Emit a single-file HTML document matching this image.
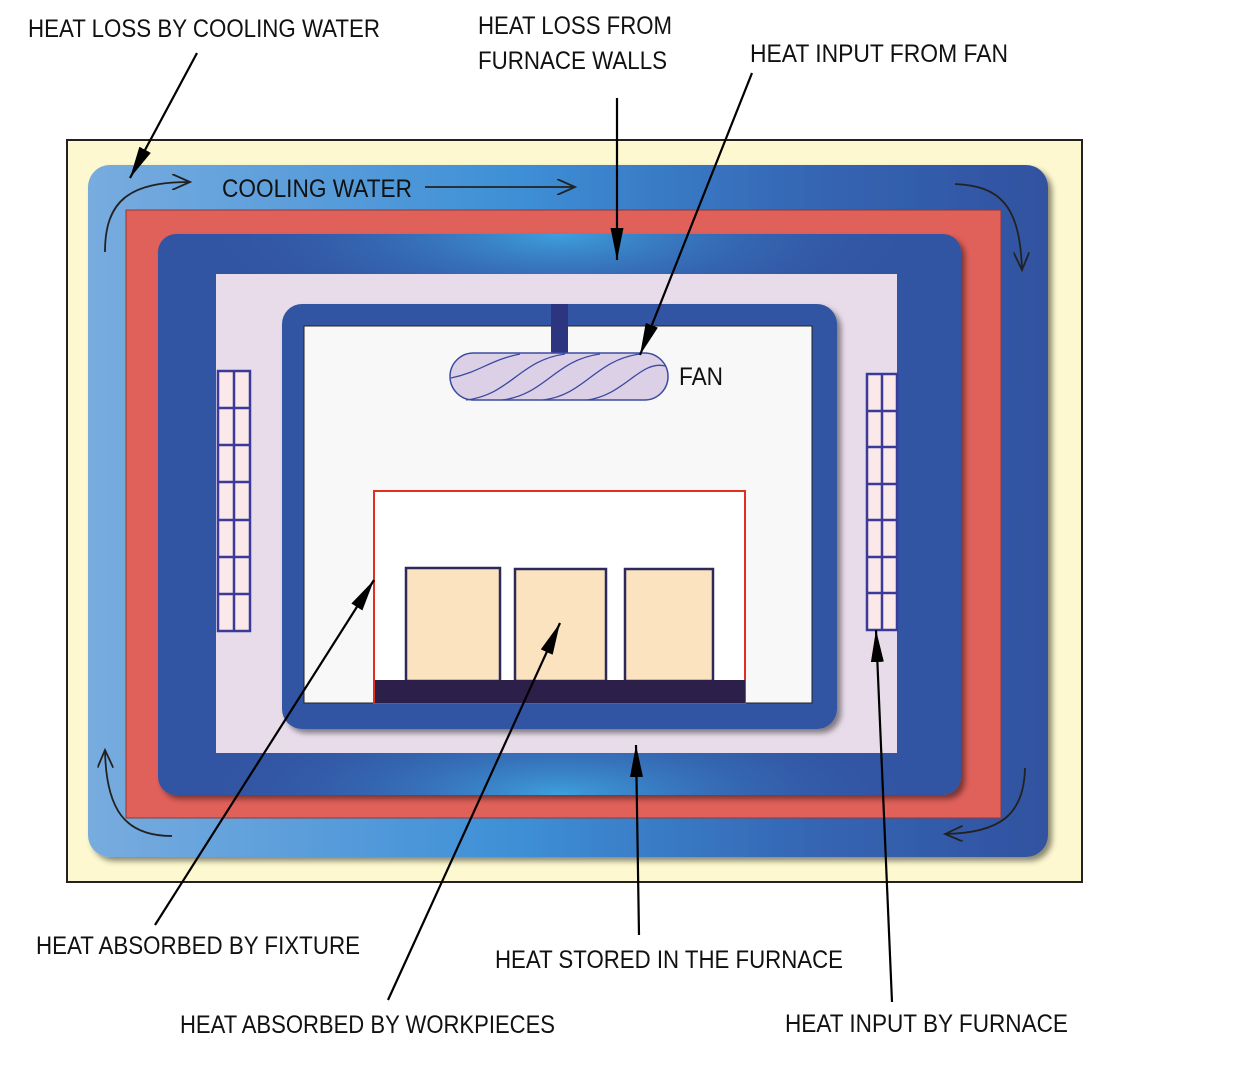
<!DOCTYPE html>
<html><head><meta charset="utf-8"><style>html,body{margin:0;padding:0;background:#fff}svg{display:block}</style></head>
<body>
<svg width="1243" height="1071" viewBox="0 0 1243 1071" xmlns="http://www.w3.org/2000/svg" font-family="Liberation Sans, sans-serif">
<defs>
<linearGradient id="cw" x1="0" y1="0" x2="1" y2="0">
<stop offset="0" stop-color="#78acdf"/><stop offset="0.45" stop-color="#3d8fd6"/><stop offset="0.75" stop-color="#3566b4"/><stop offset="1" stop-color="#3052a0"/>
</linearGradient>
<radialGradient id="gt" cx="0.5" cy="0" r="0.5" gradientTransform="translate(0.05 0) scale(0.9 0.35)">
<stop offset="0" stop-color="#3ea0de"/><stop offset="1" stop-color="#3155a3" stop-opacity="0"/>
</radialGradient>
<radialGradient id="gb" cx="0.5" cy="1" r="0.5" gradientTransform="translate(0.05 0.65) scale(0.9 0.35)">
<stop offset="0" stop-color="#3ea0de"/><stop offset="1" stop-color="#3155a3" stop-opacity="0"/>
</radialGradient>
<filter id="sh" x="-5%" y="-5%" width="110%" height="110%"><feDropShadow dx="4" dy="4" stdDeviation="3" flood-color="#000" flood-opacity="0.45"/></filter>
<marker id="ah" viewBox="0 0 32 13" refX="32" refY="6.5" markerWidth="32" markerHeight="13" markerUnits="userSpaceOnUse" orient="auto"><path d="M0,0 L32,6.5 L0,13 z" fill="#000"/></marker>
<marker id="oh" viewBox="0 0 20 16" refX="18" refY="8" markerWidth="20" markerHeight="16" markerUnits="userSpaceOnUse" orient="auto"><path d="M0,0 L18,8 L0,16" fill="none" stroke="#222" stroke-width="1.8"/></marker>
</defs>
<rect x="67" y="140" width="1015" height="742" fill="#fdf8cf" stroke="#222" stroke-width="2"/>
<rect x="88" y="165" width="960" height="692" rx="22" fill="url(#cw)" filter="url(#sh)"/>
<rect x="126" y="210" width="875" height="608" fill="#e0605a" stroke="#8a3a3a" stroke-width="1"/>
<rect x="158" y="234" width="803" height="561" rx="18" fill="#3155a3" filter="url(#sh)"/>
<rect x="158" y="234" width="803" height="561" rx="18" fill="url(#gt)"/>
<rect x="158" y="234" width="803" height="561" rx="18" fill="url(#gb)"/>
<rect x="216" y="274" width="681" height="479" fill="#e8dcea"/>
<rect x="282" y="304" width="555" height="425" rx="20" fill="#3155a3" filter="url(#sh)"/>
<rect x="304" y="326" width="508" height="377" fill="#f8f8f8" stroke="#222" stroke-width="1"/>
<g fill="#fbe8e8" stroke="#3a3a9a" stroke-width="2.5">
<rect x="218" y="371" width="32" height="260"/><rect x="867" y="374" width="30" height="256"/>
</g>
<g stroke="#3a3a9a" stroke-width="2.5">
<line x1="234" y1="371" x2="234" y2="631"/><line x1="882" y1="374" x2="882" y2="630"/>
<path d="M218,408H250M218,445H250M218,482H250M218,520H250M218,557H250M218,594H250"/>
<path d="M867,411H897M867,447H897M867,484H897M867,520H897M867,557H897M867,593H897"/>
</g>
<rect x="551" y="304" width="17" height="50" fill="#2e3580"/>
<rect x="450" y="353" width="218" height="47" rx="23.5" fill="#dcd0e6" stroke="#3a4aa0" stroke-width="1.5"/>
<g fill="none" stroke="#3a4aa0" stroke-width="1.3">
<path d="M451,378 C480,372 490,360 520,354"/><path d="M466,400 C510,395 520,360 565,354"/>
<path d="M502,400 C545,395 555,360 600,354"/><path d="M543,400 C585,395 595,360 640,354"/>
<path d="M587,400 C625,395 640,360 665,366"/>
</g>
<text x="679" y="385" font-size="25" textLength="44" lengthAdjust="spacingAndGlyphs" fill="#111">FAN</text>
<rect x="374" y="491" width="371" height="212" fill="#fff" stroke="#e03020" stroke-width="2"/>
<g fill="#fbe3bf" stroke="#2c2a5a" stroke-width="2.5">
<rect x="406" y="568" width="94" height="113"/><rect x="515" y="569" width="91" height="112"/><rect x="625" y="569" width="88" height="112"/>
</g>
<rect x="374" y="680" width="371" height="23" fill="#2c1f4a"/>
<line x1="374" y1="491" x2="374" y2="703" stroke="#e03020" stroke-width="2"/>
<text x="222" y="197" font-size="25" textLength="190" lengthAdjust="spacingAndGlyphs" fill="#111">COOLING WATER</text>
<g fill="none" stroke="#222" stroke-width="1.8" marker-end="url(#oh)">
<line x1="425" y1="187" x2="575" y2="187"/>
<path d="M105,252 C105,200 130,182 190,182"/>
<path d="M955,184 C1000,186 1020,205 1022,270"/>
<path d="M1025,768 C1024,815 1000,833 945,834"/>
<path d="M172,836 C125,836 106,810 105,750"/>
</g>
<g stroke="#000" stroke-width="2.2" marker-end="url(#ah)" fill="none">
<line x1="197" y1="53" x2="130" y2="178"/>
<line x1="617" y1="98" x2="617" y2="260"/>
<line x1="752" y1="73" x2="640" y2="355"/>
<line x1="155" y1="925" x2="374" y2="580"/>
<line x1="388" y1="1000" x2="560" y2="623"/>
<line x1="639" y1="935" x2="636" y2="745"/>
<line x1="892" y1="1002" x2="876" y2="630"/>
</g>
<g font-size="25" fill="#111">
<text x="28" y="37" textLength="352" lengthAdjust="spacingAndGlyphs">HEAT LOSS BY COOLING WATER</text>
<text x="478" y="34" textLength="194" lengthAdjust="spacingAndGlyphs">HEAT LOSS FROM</text>
<text x="478" y="69" textLength="189" lengthAdjust="spacingAndGlyphs">FURNACE WALLS</text>
<text x="750" y="62" textLength="258" lengthAdjust="spacingAndGlyphs">HEAT INPUT FROM FAN</text>
<text x="36" y="954" textLength="324" lengthAdjust="spacingAndGlyphs">HEAT ABSORBED BY FIXTURE</text>
<text x="495" y="968" textLength="348" lengthAdjust="spacingAndGlyphs">HEAT STORED IN THE FURNACE</text>
<text x="180" y="1033" textLength="375" lengthAdjust="spacingAndGlyphs">HEAT ABSORBED BY WORKPIECES</text>
<text x="785" y="1032" textLength="283" lengthAdjust="spacingAndGlyphs">HEAT INPUT BY FURNACE</text>
</g>
</svg>
</body></html>
